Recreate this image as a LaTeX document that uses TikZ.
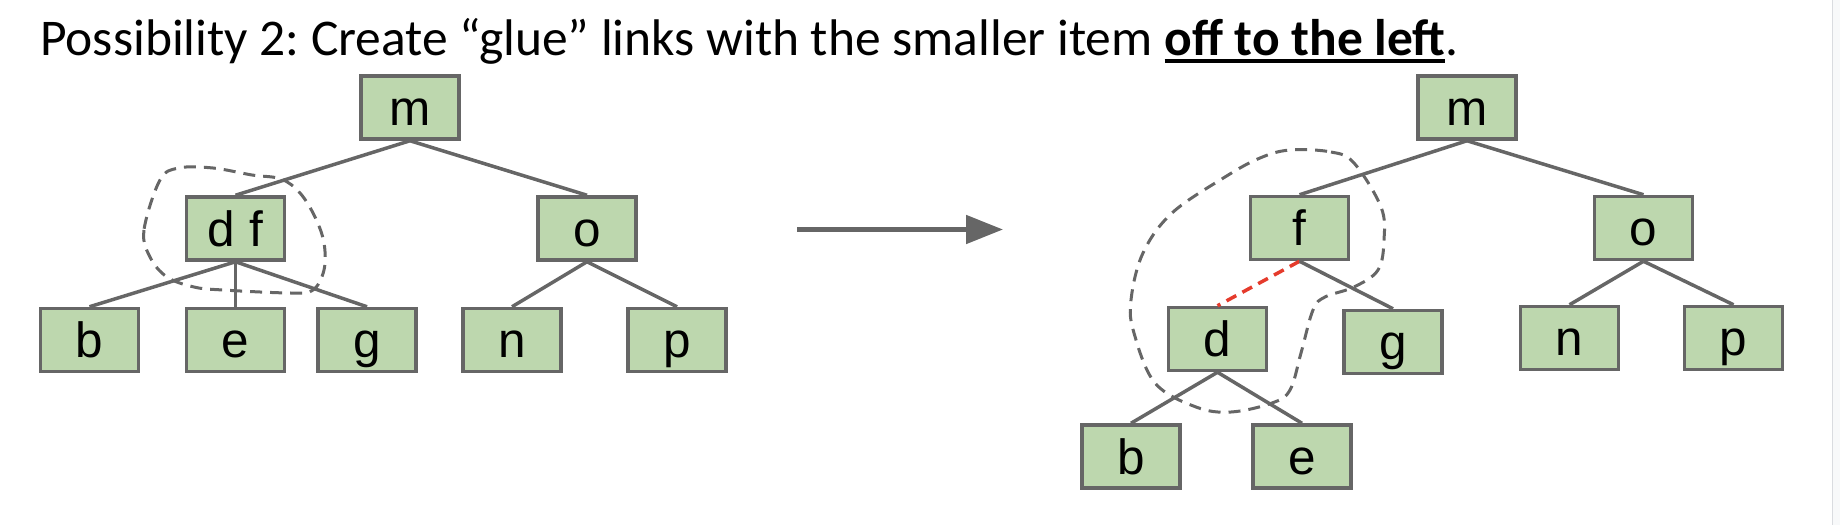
\documentclass[tikz,border=0pt]{standalone}
\usepackage{fontspec}
\setmainfont{Carlito}
\newfontfamily\arialfont{Liberation Sans}
\usetikzlibrary{arrows.meta}
\definecolor{boxfill}{HTML}{BDD7AE}
\definecolor{boxline}{HTML}{666666}
\definecolor{gluered}{HTML}{E53B2C}
\definecolor{edgestrip}{HTML}{F8F9FA}
\definecolor{edgeline}{HTML}{DADCE0}
\newcommand\titleul[1]{\setbox0\hbox{#1}\rlap{\rule[-8pt]{\wd0}{4pt}}\box0}
\frenchspacing
\begin{document}
\begin{tikzpicture}[x=1pt,y=-1pt,
  treenode/.style={draw=boxline, fill=boxfill, line width=3.5pt, minimum width=98pt, minimum height=63pt, inner sep=0pt, text height=35.5pt, text depth=0pt, font=\arialfont\fontsize{49.5}{55}\selectfont},
  edge/.style={draw=boxline, line width=3.5pt},
  glue/.style={draw=gluered, line width=3.5pt, dash pattern=on 11pt off 7pt},
  blob/.style={draw=boxline, line width=3pt, dash pattern=on 12pt off 8pt},
  ]
\useasboundingbox (0,0) rectangle (1840,525);
\fill[edgestrip] (1832,0) rectangle (1840,525);
\draw[edgeline, line width=1pt] (1832.5,0) -- (1832.5,525);

\node[anchor=base west, inner sep=0pt, font=\fontsize{51.5}{60}\selectfont] (title) at (40,55)
  {Possibility 2: Create “glue” links with the smaller item \titleul{\textbf{off to the left}}.};

% left tree
\node[treenode] (mL) at (410,107.5) {m};
\node[treenode] (df) at (235.5,228.5) {d f};
\node[treenode] (oL) at (587,228.5) {o};
\node[treenode] (bL) at (89.5,340) {b};
\node[treenode] (eL) at (235.5,340) {e};
\node[treenode] (gL) at (367,340) {g};
\node[treenode] (nL) at (512,340) {n};
\node[treenode] (pL) at (677,340) {p};
\draw[edge] (mL.south) -- (df.north);
\draw[edge] (mL.south) -- (oL.north);
\draw[edge] (df.south) -- (bL.north);
\draw[edge] (df.south) -- (eL.north);
\draw[edge] (df.south) -- (gL.north);
\draw[edge] (oL.south) -- (nL.north);
\draw[edge] (oL.south) -- (pL.north);
\draw[blob] plot[smooth cycle, tension=0.6] coordinates {
  (160,180) (144,230) (150,257) (167,277) (194,287) (223,290) (291,293) (313,290)
  (324,270) (324,243) (315,217) (300,193) (281,179) (252,175) (213,168) (179,168)};

% arrow
\coordinate (arrowstart) at (797,229.5);
\coordinate (arrowend) at (1003,229.5);
\draw[boxline, line width=5pt, -{Triangle[length=37pt,width=28pt]}] (arrowstart) -- (arrowend);

% right tree
\node[treenode] (mR) at (1467,107.5) {m};
\node[treenode] (fR) at (1299.5,228) {f};
\node[treenode] (oR) at (1643.5,228) {o};
\node[treenode] (dR) at (1217.5,339) {d};
\node[treenode] (gR) at (1393,342) {g};
\node[treenode] (nR) at (1569.5,338) {n};
\node[treenode] (pR) at (1733.5,338) {p};
\node[treenode] (bR) at (1131,456.5) {b};
\node[treenode] (eR) at (1302,456.5) {e};
\draw[edge] (mR.south) -- (fR.north);
\draw[edge] (mR.south) -- (oR.north);
\draw[glue] (fR.south) -- (dR.north);
\draw[edge] (fR.south) -- (gR.north);
\draw[edge] (oR.south) -- (nR.north);
\draw[edge] (oR.south) -- (pR.north);
\draw[edge] (dR.south) -- (bR.north);
\draw[edge] (dR.south) -- (eR.north);
\draw[blob] plot[smooth cycle, tension=0.6] coordinates {
  (1290,150) (1331,152) (1354,163) (1381,207) (1384,240) (1378,270) (1354,287) (1325,297)
  (1313,310) (1301,353) (1290,390) (1272,403) (1231,412) (1196,407) (1155,383) (1134,333)
  (1131,300) (1143,253) (1172,213) (1225,177) (1260,158)};
\end{tikzpicture}
\end{document}
